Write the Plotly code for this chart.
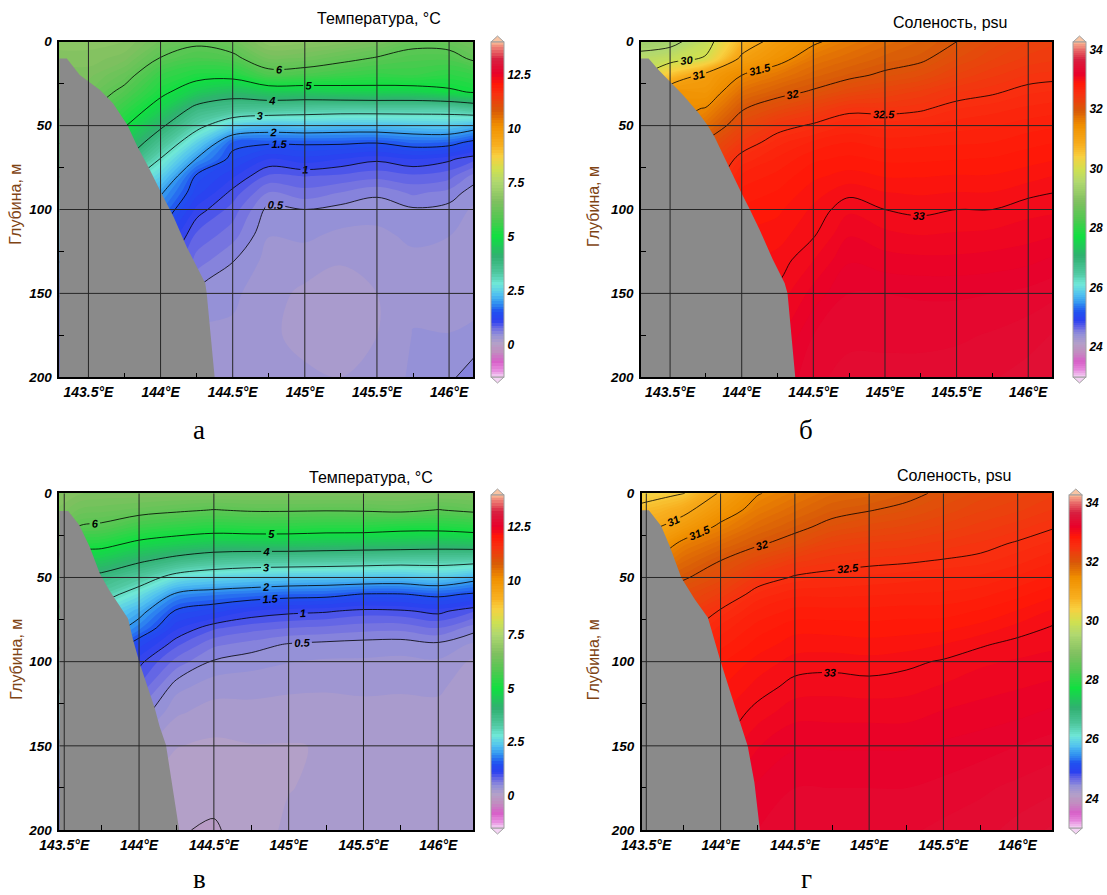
import numpy as np
import plotly.graph_objects as go

W, H = 1107, 895

# ---------------- data ----------------
DEPTHS = [0, 10, 20, 30, 40, 50, 60, 70, 80, 90, 100, 115, 130, 150, 175, 200]
LON_AB = [143.29, 143.5, 143.75, 144.0, 144.25, 144.5, 144.75, 145.0, 145.25, 145.5, 145.75, 146.0, 146.18]
LON_VG = [143.46, 143.6, 143.75, 144.0, 144.25, 144.5, 144.75, 145.0, 145.25, 145.5, 145.75, 146.0, 146.24]

# temperature, panel a (one list per longitude, values by depth)
TEMP_A = [
    [6.8, 6.7, 6.5, 6.3, 6.0, 5.5, 5.0, 4.5, 4.0, 3.5, 3.0, 2.5, 2.0, 1.5, 1.2, 1.0],
    [6.8, 6.7, 6.55, 6.35, 6.1, 5.8, 5.4, 5.0, 4.6, 4.2, 3.8, 3.2, 2.7, 2.0, 1.5, 1.2],
    [6.75, 6.55, 6.2, 5.85, 5.45, 5.05, 4.55, 4.05, 3.3, 2.75, 2.45, 2.0, 1.7, 1.35, 1.1, 0.95],
    [6.35, 5.97, 5.5, 5.15, 4.7, 4.12, 3.55, 2.97, 2.5, 2.05, 1.78, 1.4, 1.18, 1.06, 0.8, 0.6],
    [6.1, 5.72, 5.2, 4.6, 3.8, 3.2, 2.53, 1.97, 1.45, 1.3, 1.08, 0.85, 0.7, 0.47, 0.35, 0.3],
    [6.3, 5.85, 5.2, 4.3, 3.55, 2.5, 1.6, 1.4, 1.15, 0.95, 0.82, 0.68, 0.51, 0.4, 0.35, 0.33],
    [6.85, 6.4, 5.75, 4.55, 3.45, 2.3, 1.55, 1.12, 0.85, 0.62, 0.45, 0.38, 0.33, 0.3, 0.28, 0.3],
    [6.8, 6.35, 5.7, 4.55, 3.35, 2.35, 1.55, 1.2, 0.88, 0.7, 0.5, 0.4, 0.32, 0.22, 0.2, 0.28],
    [6.7, 6.15, 5.55, 4.65, 3.3, 2.3, 1.55, 1.12, 0.85, 0.62, 0.45, 0.35, 0.27, 0.15, 0.15, 0.25],
    [6.5, 5.95, 5.45, 4.7, 3.3, 2.3, 1.52, 1.03, 0.8, 0.53, 0.42, 0.35, 0.3, 0.25, 0.25, 0.28],
    [6.15, 5.8, 5.5, 4.7, 3.3, 2.35, 1.65, 1.12, 0.85, 0.65, 0.48, 0.4, 0.35, 0.35, 0.38, 0.4],
    [6.2, 5.8, 5.35, 4.9, 3.3, 2.4, 1.62, 1.03, 0.8, 0.58, 0.45, 0.38, 0.32, 0.3, 0.38, 0.47],
    [6.4, 6.1, 5.5, 5.05, 3.5, 2.2, 1.4, 0.9, 0.57, 0.42, 0.35, 0.32, 0.3, 0.3, 0.42, 0.58],
]

# salinity, panel b
SAL_B = [
    [29.3, 29.65, 29.9, 30.2, 30.5, 30.8, 31.1, 31.4, 31.7, 32.0, 32.2, 32.5, 32.7, 32.9, 33.1, 33.2],
    [29.35, 29.8, 30.55, 31.35, 31.4, 31.45, 31.6, 31.85, 32.05, 32.15, 32.3, 32.5, 32.65, 32.8, 32.97, 33.05],
    [29.8, 30.05, 31.15, 31.3, 31.52, 31.75, 32.03, 32.2, 32.33, 32.5, 32.6, 32.72, 32.8, 32.93, 33.05, 33.12],
    [30.7, 31.1, 31.5, 31.75, 31.98, 32.18, 32.38, 32.58, 32.7, 32.77, 32.82, 32.88, 32.93, 33.0, 33.1, 33.15],
    [31.2, 31.38, 31.69, 31.92, 32.15, 32.42, 32.6, 32.7, 32.77, 32.82, 32.86, 32.91, 32.96, 33.02, 33.1, 33.18],
    [31.45, 31.68, 31.85, 32.03, 32.3, 32.53, 32.7, 32.8, 32.86, 32.91, 32.95, 32.99, 33.06, 33.15, 33.25, 33.3],
    [31.65, 31.8, 31.95, 32.17, 32.45, 32.63, 32.75, 32.83, 32.9, 32.98, 33.05, 33.12, 33.18, 33.25, 33.3, 33.33],
    [31.78, 31.9, 32.04, 32.25, 32.45, 32.6, 32.72, 32.8, 32.87, 32.94, 33.0, 33.08, 33.15, 33.25, 33.3, 33.33],
    [31.88, 31.96, 32.12, 32.33, 32.48, 32.62, 32.73, 32.8, 32.87, 32.93, 32.98, 33.06, 33.14, 33.24, 33.3, 33.33],
    [32.0, 32.12, 32.26, 32.43, 32.56, 32.66, 32.74, 32.81, 32.88, 32.94, 33.0, 33.07, 33.14, 33.24, 33.3, 33.35],
    [32.15, 32.24, 32.36, 32.48, 32.6, 32.68, 32.75, 32.82, 32.88, 32.94, 33.0, 33.08, 33.15, 33.25, 33.32, 33.37],
    [32.25, 32.33, 32.44, 32.55, 32.64, 32.72, 32.79, 32.85, 32.91, 32.98, 33.04, 33.1, 33.17, 33.27, 33.35, 33.4],
    [32.3, 32.36, 32.46, 32.57, 32.66, 32.74, 32.81, 32.87, 32.94, 33.0, 33.05, 33.12, 33.2, 33.3, 33.38, 33.45],
]

# temperature, panel v
TEMP_V = [
    [6.75, 6.6, 6.4, 6.2, 6.0, 5.7, 5.4, 5.0, 4.6, 4.2, 3.8, 3.2, 2.7, 2.0, 1.5, 1.2],
    [6.65, 6.35, 5.97, 5.3, 4.6, 3.95, 3.45, 2.97, 2.65, 2.33, 2.0, 1.53, 1.2, 0.9, 0.5, 0.3],
    [6.6, 6.3, 5.9, 5.2, 4.5, 3.8, 3.27, 2.7, 2.35, 2.0, 1.67, 1.4, 0.92, 0.65, 0.35, 0.2],
    [6.6, 6.2, 5.55, 4.85, 4.1, 3.35, 2.7, 2.15, 1.8, 1.3, 1.05, 0.85, 0.6, 0.3, 0.15, 0.1],
    [6.6, 6.08, 5.4, 4.65, 3.75, 2.75, 1.92, 1.45, 1.15, 0.9, 0.7, 0.42, 0.27, 0.13, 0.06, 0.01],
    [6.6, 5.98, 5.3, 4.5, 3.5, 2.55, 1.78, 1.3, 0.9, 0.65, 0.48, 0.3, 0.2, 0.1, 0.04, -0.015],
    [6.6, 6.05, 5.35, 4.5, 3.4, 2.45, 1.7, 1.12, 0.8, 0.57, 0.42, 0.3, 0.2, 0.12, 0.1, 0.06],
    [6.6, 6.05, 5.35, 4.5, 3.38, 2.38, 1.63, 1.05, 0.75, 0.48, 0.38, 0.28, 0.18, 0.12, 0.12, 0.15],
    [6.6, 6.03, 5.3, 4.45, 3.35, 2.35, 1.6, 1.02, 0.72, 0.45, 0.36, 0.27, 0.18, 0.13, 0.15, 0.2],
    [6.6, 6.05, 5.3, 4.42, 3.3, 2.33, 1.48, 0.95, 0.68, 0.43, 0.36, 0.28, 0.2, 0.14, 0.15, 0.2],
    [6.6, 6.1, 5.2, 4.4, 3.25, 2.3, 1.48, 0.97, 0.67, 0.42, 0.35, 0.27, 0.2, 0.15, 0.15, 0.18],
    [6.55, 5.98, 5.2, 4.35, 3.25, 2.4, 1.58, 1.05, 0.75, 0.46, 0.36, 0.28, 0.2, 0.15, 0.15, 0.17],
    [6.6, 6.1, 5.3, 4.4, 3.2, 2.15, 1.45, 0.88, 0.56, 0.35, 0.22, 0.15, 0.15, 0.15, 0.15, 0.15],
]

# salinity, panel g
SAL_G = [
    [30.3, 30.63, 30.9, 31.15, 31.4, 31.7, 31.95, 32.15, 32.3, 32.45, 32.55, 32.7, 32.8, 32.9, 33.0, 33.1],
    [30.4, 30.72, 31.01, 31.3, 31.6, 31.85, 32.05, 32.25, 32.38, 32.5, 32.6, 32.72, 32.82, 32.92, 33.02, 33.1],
    [30.48, 30.9, 31.2, 31.6, 31.8, 31.97, 32.15, 32.3, 32.42, 32.53, 32.62, 32.73, 32.83, 32.93, 33.03, 33.1],
    [31.05, 31.3, 31.58, 31.8, 32.0, 32.15, 32.33, 32.52, 32.65, 32.73, 32.8, 32.87, 32.93, 33.0, 33.08, 33.15],
    [31.48, 31.64, 31.8, 31.97, 32.18, 32.4, 32.58, 32.7, 32.78, 32.84, 32.9, 32.96, 33.03, 33.12, 33.2, 33.25],
    [31.65, 31.8, 31.94, 32.1, 32.35, 32.52, 32.67, 32.77, 32.85, 32.91, 32.96, 33.03, 33.1, 33.18, 33.25, 33.3],
    [31.8, 31.93, 32.07, 32.27, 32.42, 32.56, 32.67, 32.77, 32.85, 32.91, 32.97, 33.04, 33.1, 33.18, 33.25, 33.3],
    [31.85, 31.99, 32.15, 32.32, 32.46, 32.58, 32.68, 32.77, 32.84, 32.9, 32.96, 33.03, 33.1, 33.18, 33.25, 33.3],
    [31.93, 32.06, 32.2, 32.35, 32.48, 32.6, 32.69, 32.78, 32.85, 32.91, 32.98, 33.04, 33.1, 33.18, 33.25, 33.3],
    [32.05, 32.15, 32.27, 32.4, 32.51, 32.62, 32.7, 32.78, 32.86, 32.94, 33.01, 33.07, 33.13, 33.2, 33.27, 33.33],
    [32.15, 32.24, 32.34, 32.45, 32.54, 32.64, 32.73, 32.82, 32.9, 32.99, 33.05, 33.1, 33.15, 33.22, 33.3, 33.35],
    [32.22, 32.3, 32.41, 32.52, 32.6, 32.7, 32.79, 32.88, 32.96, 33.03, 33.07, 33.12, 33.17, 33.25, 33.33, 33.4],
    [32.3, 32.38, 32.49, 32.58, 32.68, 32.77, 32.86, 32.95, 33.01, 33.05, 33.09, 33.14, 33.2, 33.28, 33.36, 33.45],
]

# bottom (shelf slope) outlines
BATHY_A_LON = [143.28, 143.35, 143.44, 143.58, 143.67, 143.77, 143.84, 143.915, 144.007, 144.09, 144.18, 144.31, 144.32, 144.376, 143.28]
BATHY_A_DEP = [10, 10, 19.9, 28.8, 36.7, 49.7, 62.6, 74.5, 90.4, 104.3, 122.1, 144, 150, 201, 201]
BATHY_B_LON = [143.28, 143.35, 143.42, 143.5, 143.59, 143.70, 143.76, 143.81, 143.92, 144.0, 144.056, 144.125, 144.218, 144.3, 144.32, 144.375, 143.28]
BATHY_B_DEP = [10, 10, 16.9, 23.8, 31.8, 42.7, 49.7, 56.6, 76.5, 90.4, 99.9, 112, 130, 144, 150, 201, 201]
BATHY_V_LON = [143.45, 143.526, 143.60, 143.67, 143.737, 143.80, 143.926, 143.96, 144.004, 144.05, 144.105, 144.138, 144.18, 144.27, 143.45]
BATHY_V_DEP = [10.5, 10.5, 18.8, 31.7, 47.5, 57.4, 74.3, 87, 101, 112.9, 127.7, 138.6, 149.5, 201, 201]
BATHY_G_LON = [143.45, 143.517, 143.60, 143.657, 143.736, 143.826, 143.915, 143.95, 144.0, 144.06, 144.128, 144.183, 144.228, 144.266, 143.45]
BATHY_G_DEP = [10.1, 10.1, 19.4, 31.3, 50.1, 63, 73.9, 84.8, 99.7, 116.5, 134.4, 150.2, 172, 201, 201]

T_LEVELS_A = [0.5, 1, 1.5, 2, 3, 4, 5, 6]
T_LEVELS_V = [0, 0.5, 1, 1.5, 2, 3, 4, 5, 6]
S_LEVELS_B = [29.5, 30, 31, 31.5, 32, 32.5, 33]
S_LEVELS_G = [30.5, 31, 31.5, 32, 32.5, 33]

T_TICKS = [0, 2.5, 5, 7.5, 10, 12.5]
S_TICKS = [24, 26, 28, 30, 32, 34]
LON_TICKS = [143.5, 144, 144.5, 145, 145.5, 146]
LON_LABELS = ["143.5°E", "144°E", "144.5°E", "145°E", "145.5°E", "146°E"]
DEPTH_TICKS = [0, 50, 100, 150, 200]
LON_MINOR = [143.75, 144.25, 144.75, 145.25, 145.75]
DEPTH_MINOR = [25, 75, 125, 175]

COLORSCALE = [
    [0.000, "#f4d0f4"], [0.019, "#e890e0"], [0.045, "#d860c8"], [0.077, "#c090c0"],
    [0.100, "#b4a0c8"], [0.126, "#9490d8"], [0.148, "#6868e4"], [0.168, "#2c40f0"],
    [0.194, "#2050f0"], [0.219, "#3090f0"], [0.245, "#50c0f0"], [0.277, "#70e8d8"],
    [0.310, "#50c8a0"], [0.361, "#30b070"], [0.419, "#10e040"], [0.471, "#50c850"],
    [0.523, "#80c060"], [0.581, "#b0d870"], [0.619, "#d0e050"], [0.658, "#f8d040"],
    [0.690, "#f8b020"], [0.750, "#f09000"], [0.795, "#d85a08"], [0.845, "#f83010"],
    [0.875, "#ff1808"], [0.905, "#e8002a"], [0.948, "#d82040"], [1.000, "#f8b090"],
]

# ---------------- layout helpers ----------------
TICKFONT = dict(family="Arial", size=14, color="black", weight="bold", style="italic")
YTICKFONT = dict(family="Arial", size=13.5, color="black", weight="bold", style="italic")
CBFONT = dict(family="Arial", size=12, color="black", weight="bold", style="italic")
LABELFONT = dict(family="Arial", size=11, color="black", weight="bold", style="italic")

panels = [
    dict(n="", lon=LON_AB, z=TEMP_A, levels=T_LEVELS_A, zr=(-1.5, 14.0), step=0.125, ticks=T_TICKS,
         box=(59.3, 41.7, 473.3, 377.3), xr=(143.298, 146.168), cb=(491, 42, 377),
         blon=BATHY_A_LON, bdep=BATHY_A_DEP, title="Температура, °C", tpos=(443.3, 18.5),
         ylab=(15.7, 204), letter="а", lpos=(199.3, 430), lanchor="middle"),
    dict(n="2", lon=LON_AB, z=SAL_B, levels=S_LEVELS_B, zr=(23.0, 34.25), step=0.0625, ticks=S_TICKS,
         box=(641.0, 41.7, 1052.3, 377.3), xr=(143.297, 146.168), cb=(1073, 42, 377),
         blon=BATHY_B_LON, bdep=BATHY_B_DEP, title="Соленость, psu", tpos=(1009, 22.3),
         ylab=(593.3, 206.7), letter="б", lpos=(805.7, 430), lanchor="middle"),
    dict(n="3", lon=LON_VG, z=TEMP_V, levels=T_LEVELS_V, zr=(-1.5, 14.0), step=0.125, ticks=T_TICKS,
         box=(59.3, 493.3, 473.3, 830.0), xr=(143.467, 146.234), cb=(491, 495, 828),
         blon=BATHY_V_LON, bdep=BATHY_V_DEP, title="Температура, °C", tpos=(435, 477.7),
         ylab=(15.7, 659), letter="в", lpos=(199.3, 895), lanchor="bottom"),
    dict(n="4", lon=LON_VG, z=SAL_G, levels=S_LEVELS_G, zr=(23.0, 34.25), step=0.0625, ticks=S_TICKS,
         box=(641.7, 493.3, 1052.3, 830.0), xr=(143.469, 146.233), cb=(1069.3, 495, 828),
         blon=BATHY_G_LON, bdep=BATHY_G_DEP, title="Соленость, psu", tpos=(1012.7, 475),
         ylab=(593.3, 660), letter="г", lpos=(806, 895), lanchor="bottom"),
]

fig = go.Figure()
shapes = []
annotations = []
layout = dict(width=W, height=H, margin=dict(l=0, r=0, t=0, b=0, pad=0, autoexpand=False),
              paper_bgcolor="white", plot_bgcolor="white", showlegend=False)

for p in panels:
    xa, ya = "x" + p["n"], "y" + p["n"]
    z = np.array(p["z"]).T
    zmin, zmax = p["zr"]
    x0, y0, x1, y1 = p["box"]
    cbx, cbt, cbb = p["cb"]

    fig.add_trace(go.Contour(
        x=p["lon"], y=DEPTHS, z=z, xaxis=xa, yaxis=ya,
        colorscale=COLORSCALE, zmin=zmin, zmax=zmax, autocontour=False,
        contours=dict(start=zmin, end=zmax, size=p["step"], coloring="fill", showlines=False),
        line=dict(width=0, smoothing=1.0), hoverinfo="skip",
        colorbar=dict(x=cbx / W, xanchor="left", y=1 - cbb / H, yanchor="bottom",
                      len=(cbb - cbt) / H, lenmode="fraction", thickness=13, thicknessmode="pixels",
                      xpad=0, ypad=0, outlinewidth=1, outlinecolor="#a0a0a0", borderwidth=0,
                      tickvals=p["ticks"], ticks="", tickfont=CBFONT),
    ))
    for lev in p["levels"]:
        fig.add_trace(go.Contour(
            x=p["lon"], y=DEPTHS, z=z, xaxis=xa, yaxis=ya, autocontour=False, showscale=False,
            contours=dict(start=lev, end=lev, size=1, coloring="none", showlabels=True,
                          labelfont=LABELFONT),
            line=dict(color="black", width=0.8, smoothing=1.0), hoverinfo="skip",
        ))
    fig.add_trace(go.Scatter(
        x=p["blon"], y=p["bdep"], xaxis=xa, yaxis=ya, mode="lines", fill="toself",
        fillcolor="#8a8a8a", line=dict(width=0, color="#8a8a8a"), hoverinfo="skip",
    ))

    layout["xaxis" + p["n"]] = dict(
        domain=[x0 / W, x1 / W], range=list(p["xr"]), anchor=ya, tickvals=LON_TICKS, ticktext=LON_LABELS,
        showgrid=False, zeroline=False, showline=True, linecolor="black", linewidth=1.5, mirror=True,
        ticks="", tickfont=TICKFONT, ticklabelstandoff=1, automargin=False,
        minor=dict(tickvals=LON_MINOR, ticks="inside", ticklen=5, tickwidth=1, tickcolor="black", showgrid=False),
    )
    layout["yaxis" + p["n"]] = dict(
        domain=[1 - y1 / H, 1 - y0 / H], range=[200, 0], anchor=xa, tickvals=DEPTH_TICKS,
        showgrid=False, zeroline=False, showline=True, linecolor="black", linewidth=1.5, mirror=True,
        ticks="", tickfont=YTICKFONT, ticklabelstandoff=3, automargin=False,
        minor=dict(tickvals=DEPTH_MINOR, ticks="inside", ticklen=5, tickwidth=1, tickcolor="black", showgrid=False),
    )

    for v in LON_TICKS:
        if p["xr"][0] < v < p["xr"][1]:
            shapes.append(dict(type="line", xref=xa, yref=ya, x0=v, x1=v, y0=0, y1=200,
                               line=dict(color="#262626", width=1), layer="above"))
    for d in DEPTH_TICKS[1:-1]:
        shapes.append(dict(type="line", xref=xa, yref=ya, x0=p["xr"][0], x1=p["xr"][1], y0=d, y1=d,
                           line=dict(color="#262626", width=1), layer="above"))

    # pointed colour-bar ends
    bx0, bx1 = cbx / W, (cbx + 13) / W
    bxm = (cbx + 6.5) / W
    shapes.append(dict(type="path", xref="paper", yref="paper",
                       path=f"M {bx0} {1 - cbt / H} L {bxm} {1 - (cbt - 6) / H} L {bx1} {1 - cbt / H} Z",
                       fillcolor="#f8c4a4", line=dict(color="#a0a0a0", width=1), layer="above"))
    shapes.append(dict(type="path", xref="paper", yref="paper",
                       path=f"M {bx0} {1 - cbb / H} L {bxm} {1 - (cbb + 6) / H} L {bx1} {1 - cbb / H} Z",
                       fillcolor="#f4d4f4", line=dict(color="#a0a0a0", width=1), layer="above"))

    annotations.append(dict(text=p["title"], xref="paper", yref="paper", x=p["tpos"][0] / W,
                            y=1 - p["tpos"][1] / H, xanchor="right", yanchor="middle", showarrow=False,
                            font=dict(family="Arial", size=16, color="black")))
    annotations.append(dict(text="Глубина, м", xref="paper", yref="paper", x=p["ylab"][0] / W,
                            y=1 - p["ylab"][1] / H, xanchor="center", yanchor="middle", showarrow=False,
                            textangle=-90, font=dict(family="Arial", size=16, color="#7f4414")))
    annotations.append(dict(text=p["letter"], xref="paper", yref="paper", x=p["lpos"][0] / W,
                            y=1 - p["lpos"][1] / H, xanchor="center", yanchor=p["lanchor"], showarrow=False,
                            borderpad=0, font=dict(family="Times New Roman", size=27, color="black")))

layout["shapes"] = shapes
layout["annotations"] = annotations
fig.update_layout(**layout)
fig.write_html("out.html", config={"displayModeBar": False},
               post_script="document.body.style.margin='0px';document.body.style.overflow='hidden';")
